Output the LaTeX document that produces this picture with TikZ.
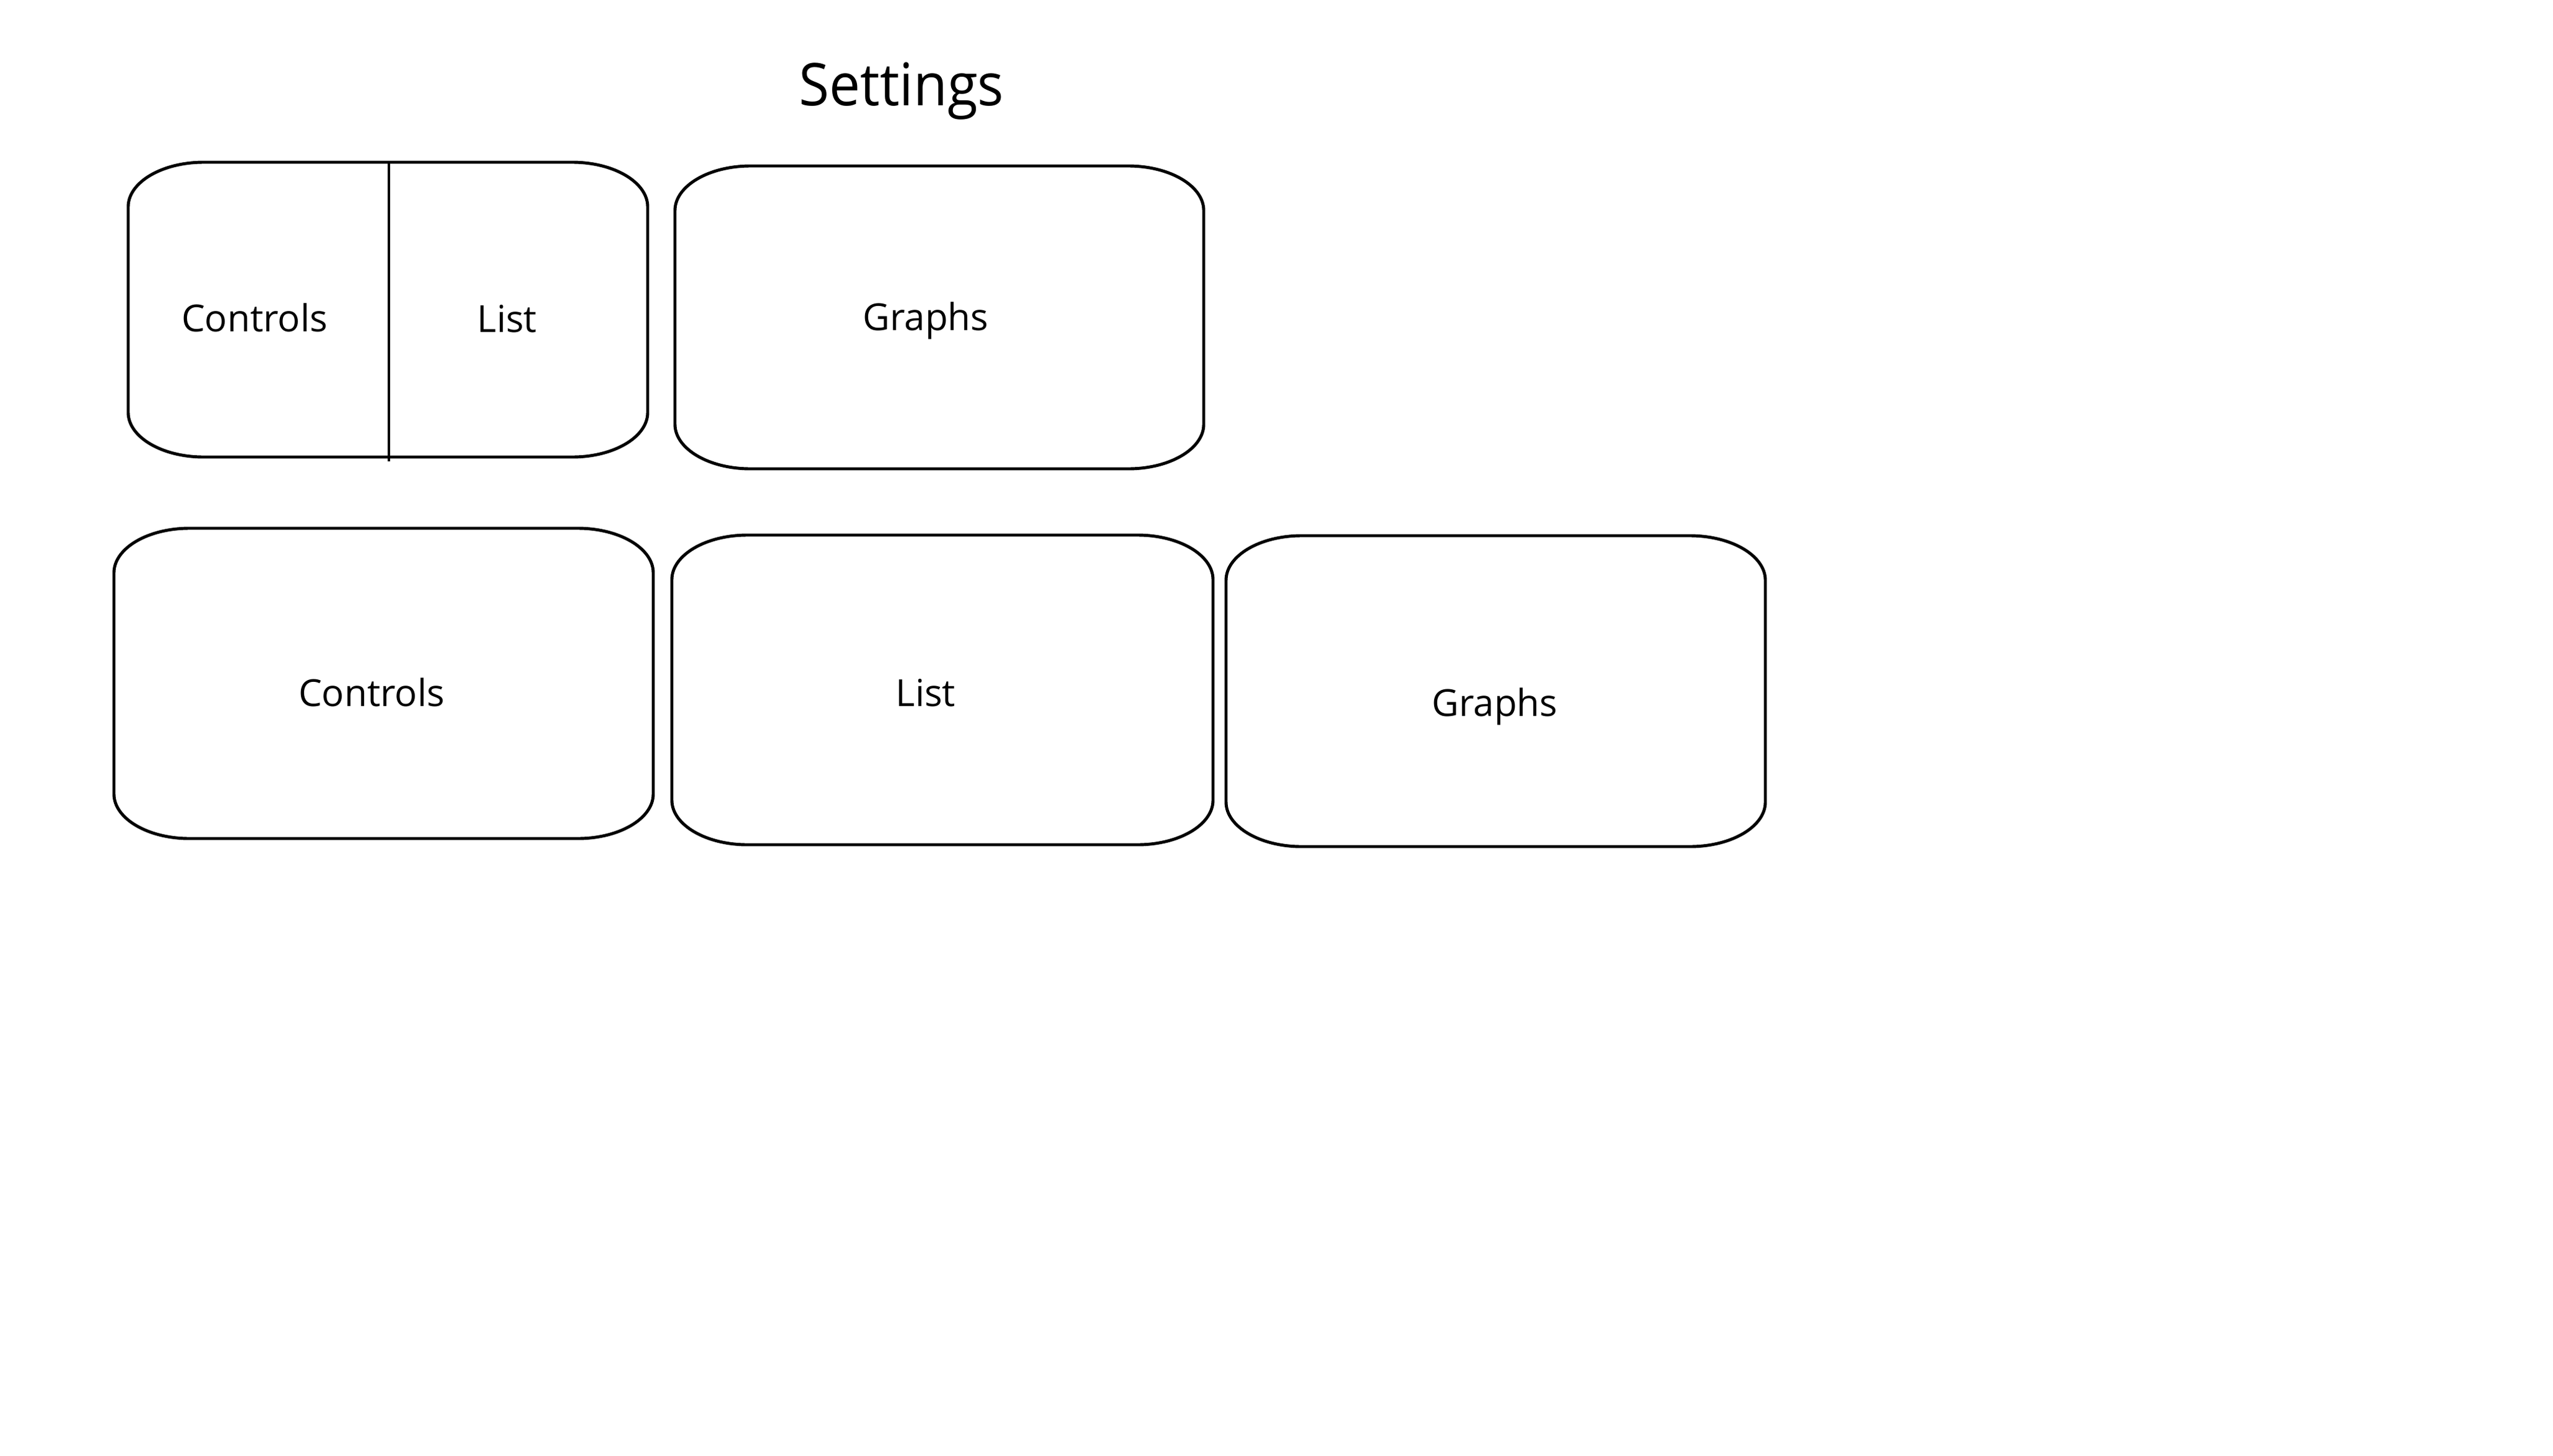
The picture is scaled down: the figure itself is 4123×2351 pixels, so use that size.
\documentclass[tikz,border=0pt]{standalone}
\usepackage{fontspec}
\setmainfont{Open Sans}
\newfontfamily\titlefont{Open Sans}[FakeStretch=0.94]
\tikzset{
  boxline/.style={draw=black, line width=1.4pt, line join=round},
  divline/.style={draw=black, line width=1.0pt},
  lbl/.style={anchor=base, inner sep=0pt, font=\fontsize{17.1}{21}\selectfont},
  ttl/.style={anchor=base, inner sep=0pt, font=\titlefont\fontsize{27}{32}\selectfont}
}
% elliptical-corner box: x1 y1 x2 y2 (pixel units)
\newcommand\ebox[4]{%
  \draw[boxline] (#1+122,#2) -- (#3-122,#2)
    .. controls (#3-54.6,#2) and (#3,#2+32.3) .. (#3,#2+72)
    -- (#3,#4-72)
    .. controls (#3,#4-32.3) and (#3-54.6,#4) .. (#3-122,#4)
    -- (#1+122,#4)
    .. controls (#1+54.6,#4) and (#1,#4-32.3) .. (#1,#4-72)
    -- (#1,#2+72)
    .. controls (#1,#2+32.3) and (#1+54.6,#2) .. cycle;}
\begin{document}
\begin{tikzpicture}[x=0.01cm, y=-0.01cm]
  \useasboundingbox[fill=white] (0,0) rectangle (4123,2351);
  % title
  \node[ttl] (title) at (1456,170) {Settings};
  % top row
  \ebox{207}{262}{1046}{738}
  \coordinate (dtop) at (628,262);
  \coordinate (dbot) at (628,745);
  \draw[divline] (dtop) -- (dbot);
  \node[lbl] (c1) at (411,535) {Controls};
  \node[lbl] (l1) at (819,536) {List};
  \ebox{1090}{268}{1944}{757}
  \node[lbl] (g1) at (1495,533) {Graphs};
  % bottom row
  \ebox{184}{853}{1055}{1354}
  \node[lbl] (c2) at (600,1140) {Controls};
  \ebox{1085}{864}{1959}{1364}
  \node[lbl] (l2) at (1495,1140) {List};
  \ebox{1980}{865}{2851}{1367}
  \node[lbl] (g2) at (2414,1156) {Graphs};
\end{tikzpicture}
\end{document}
